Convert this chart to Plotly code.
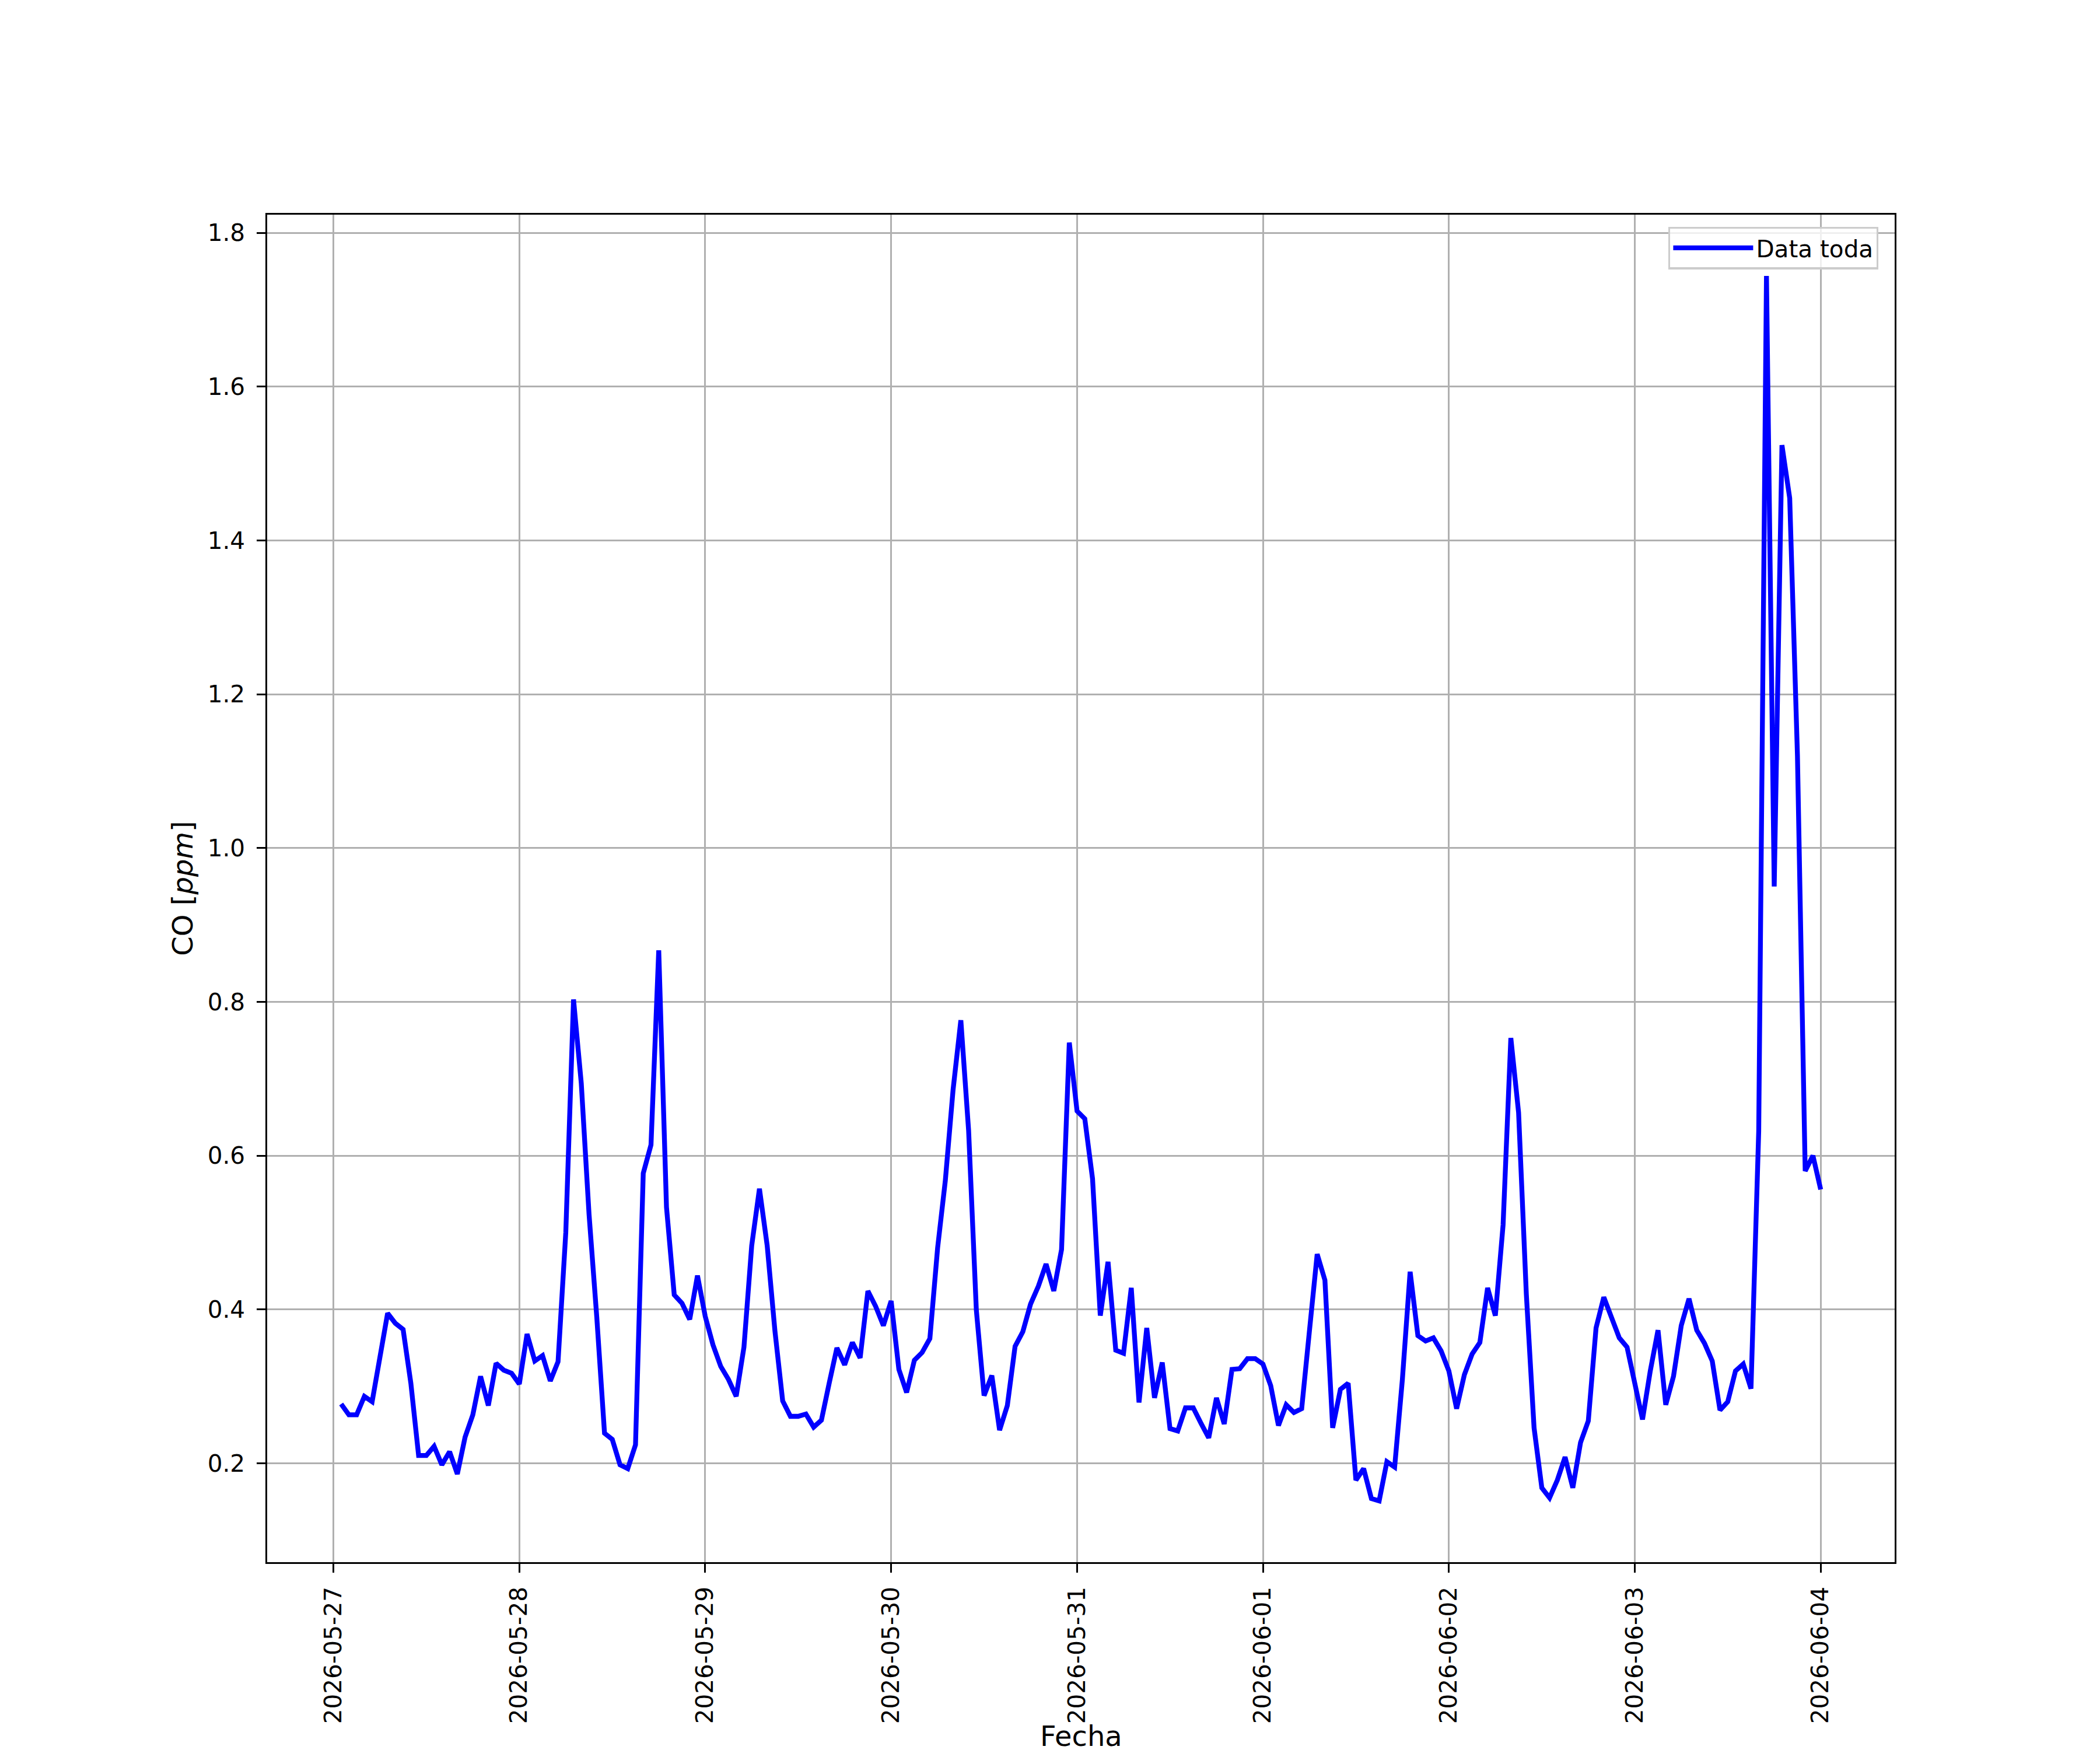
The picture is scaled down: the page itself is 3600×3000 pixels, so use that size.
import plotly.graph_objects as go
import pandas as pd

# hourly CO readings, 2026-05-27 01:00 .. 2026-06-04 00:00
start_time = "2026-05-27 01:00"
co_ppm = [
    0.277, 0.263, 0.263, 0.287, 0.280, 0.340, 0.395, 0.382, 0.374, 0.304,
    0.210, 0.210, 0.222, 0.198, 0.215, 0.186, 0.234, 0.263, 0.313, 0.275,
    0.330, 0.321, 0.317, 0.303, 0.368, 0.333, 0.340, 0.307, 0.332, 0.500,
    0.803, 0.694, 0.524, 0.390, 0.239, 0.231, 0.198, 0.193, 0.224, 0.577,
    0.614, 0.867, 0.533, 0.419, 0.408, 0.387, 0.444, 0.391, 0.354, 0.326,
    0.309, 0.287, 0.351, 0.483, 0.557, 0.483, 0.372, 0.281, 0.261, 0.261,
    0.264, 0.247, 0.256, 0.304, 0.350, 0.328, 0.357, 0.337, 0.424, 0.404,
    0.379, 0.411, 0.322, 0.292, 0.334, 0.344, 0.362, 0.480, 0.568, 0.686,
    0.776, 0.633, 0.399, 0.288, 0.314, 0.243, 0.275, 0.352, 0.371, 0.407,
    0.430, 0.459, 0.424, 0.478, 0.747, 0.658, 0.648, 0.570, 0.392, 0.462,
    0.347, 0.343, 0.428, 0.279, 0.376, 0.285, 0.331, 0.245, 0.242, 0.272,
    0.272, 0.252, 0.233, 0.285, 0.251, 0.322, 0.323, 0.336, 0.336, 0.329,
    0.301, 0.249, 0.276, 0.266, 0.271, 0.372, 0.472, 0.438, 0.246, 0.296,
    0.304, 0.178, 0.193, 0.154, 0.151, 0.202, 0.195, 0.309, 0.449, 0.366,
    0.359, 0.363, 0.346, 0.320, 0.271, 0.315, 0.342, 0.357, 0.428, 0.392,
    0.510, 0.753, 0.656, 0.420, 0.246, 0.168, 0.155, 0.178, 0.208, 0.168,
    0.227, 0.255, 0.376, 0.416, 0.391, 0.363, 0.351, 0.307, 0.257, 0.320,
    0.373, 0.276, 0.313, 0.379, 0.414, 0.373, 0.356, 0.333, 0.269, 0.280,
    0.320, 0.329, 0.297, 0.632, 1.744, 0.950, 1.524, 1.455, 1.120, 0.580,
    0.600, 0.556,
]
y_ticks = [0.2, 0.4, 0.6, 0.8, 1.0, 1.2, 1.4, 1.6, 1.8]

fechas = pd.date_range(start_time, periods=len(co_ppm), freq="h")

# matplotlib-like 5% padding around the data
t0, t1 = fechas[0], fechas[-1]
pad_t = (t1 - t0) * 0.05
ymin, ymax = min(co_ppm), max(co_ppm)
pad_y = (ymax - ymin) * 0.05

FONT = "DejaVu Sans"
LW = 3.3  # 0.8pt at 300 dpi

fig = go.Figure()
fig.add_trace(go.Scatter(
    x=fechas,
    y=co_ppm,
    mode="lines",
    name="Data toda",
    line=dict(color="blue", width=8.3),
))

axis_common = dict(
    showline=True,
    mirror=True,
    linecolor="black",
    linewidth=LW,
    ticks="outside",
    ticklen=14.6,
    tickwidth=LW,
    tickcolor="black",
    showgrid=True,
    gridcolor="#b0b0b0",
    gridwidth=LW,
    zeroline=False,
    tickfont=dict(family=FONT, size=40.5, color="black"),
    automargin=False,
)

fig.update_layout(
    width=3600,
    height=3000,
    margin=dict(l=450, r=360, t=360, b=330),
    paper_bgcolor="white",
    plot_bgcolor="white",
    font=dict(family=FONT, color="black"),
    showlegend=True,
    legend=dict(
        x=0.990, y=0.991, xanchor="right", yanchor="top",
        bgcolor="rgba(255,255,255,0.8)",
        bordercolor="#cccccc",
        borderwidth=3.3,
        font=dict(family=FONT, size=40.5, color="black"),
        itemwidth=137,
    ),
    xaxis=dict(
        axis_common,
        type="date",
        range=[t0 - pad_t, t1 + pad_t],
        dtick=86400000,
        tick0="2026-05-27",
        tickformat="%Y-%m-%d",
        tickangle=-90,
        ticklabelstandoff=8,
    ),
    yaxis=dict(
        axis_common,
        range=[ymin - pad_y, ymax + pad_y],
        tickvals=y_ticks,
        tickformat=".1f",
        ticklabelstandoff=12,
        title=dict(text="CO [<i>ppm</i>]", font=dict(family=FONT, size=48), standoff=10),
    ),
)

# x label placed by hand so it sits right at the bottom edge without clipping
fig.add_annotation(
    text="Fecha",
    xref="paper", yref="paper",
    x=0.5, y=-0.142,
    xanchor="center", yanchor="bottom",
    showarrow=False,
    font=dict(family=FONT, size=48, color="black"),
)

fig.write_html("out.html")
